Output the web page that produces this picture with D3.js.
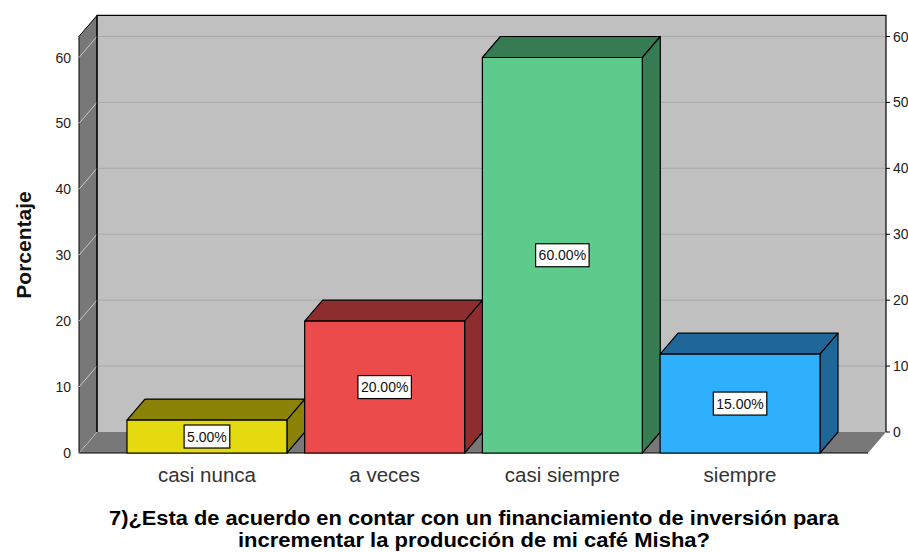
<!DOCTYPE html>
<html><head><meta charset="utf-8">
<script src="https://cdn.jsdelivr.net/npm/d3@7"></script>
<style>body{margin:0;background:#fff}svg{display:block}</style>
</head><body><svg id="c" width="908" height="552"></svg>
<script>
const categories = ["casi nunca", "a veces", "casi siempre", "siempre"];
const values = [5, 20, 60, 15];
const valueLabels = ["5.00%", "20.00%", "60.00%", "15.00%"];
const ticks = [0, 10, 20, 30, 40, 50, 60];
const frontColors = ["#e5d90f", "#ec4b4b", "#5ccb8b", "#2fb0fd"];
const sideColors = ["#8b8208", "#8e2d2d", "#367c52", "#1f6699"];
const yTitle = "Porcentaje";
const titleLines = ["7)¿Esta de acuerdo en contar con un financiamiento de inversión para", "incrementar la producción de mi café Misha?"];
const titleWidths = [730, 472];

const svg = d3.select("#c");
const dx = 18, dy = -21;
const x0 = 79, x1 = 868;
const y = d3.scaleLinear().domain([0, 60]).range([453, 57.5]);
const topVal = 63.2;
const x = d3.scaleBand().domain(categories).range([x0, x1]).paddingInner(0.1).paddingOuter(0.27);
const FONT = "Liberation Sans, Arial, sans-serif";

// back wall
svg.append("rect").attr("x", x0 + dx).attr("y", y(topVal) + dy).attr("width", x1 - x0).attr("height", y(0) - y(topVal))
  .attr("fill", "#c0c0c0");
// left wall
svg.append("polygon").attr("points", [[x0, y(0)], [x0, y(topVal)], [x0 + dx, y(topVal) + dy], [x0 + dx, y(0) + dy]].join(" "))
  .attr("fill", "#787878").attr("stroke", "#000").attr("stroke-width", 1);
// floor
svg.append("polygon").attr("points", [[x0, y(0)], [x1, y(0)], [x1 + dx, y(0) + dy], [x0 + dx, y(0) + dy]].join(" "))
  .attr("fill", "#787878");
// gridlines
ticks.filter(t => t > 0).forEach(t => {
  svg.append("line").attr("x1", x0 + dx).attr("x2", x1 + dx).attr("y1", y(t) + dy).attr("y2", y(t) + dy)
    .attr("stroke", "#a9a9a9").attr("stroke-width", 1);
  svg.append("line").attr("x1", x0).attr("x2", x0 + dx).attr("y1", y(t)).attr("y2", y(t) + dy)
    .attr("stroke", "#c8c8c8").attr("stroke-width", 1);
});
svg.append("line").attr("x1", x0).attr("x2", x0 + dx).attr("y1", y(0)).attr("y2", y(0) + dy)
  .attr("stroke", "#c8c8c8").attr("stroke-width", 1);
// back wall edges
svg.append("polyline").attr("points", [[x0 + dx, y(0) + dy], [x0 + dx, y(topVal) + dy], [x1 + dx, y(topVal) + dy], [x1 + dx, y(0) + dy]].join(" "))
  .attr("fill", "none").attr("stroke", "#000").attr("stroke-width", 1.2);
svg.append("line").attr("x1", x0).attr("x2", x1).attr("y1", y(0)).attr("y2", y(0)).attr("stroke", "#000").attr("stroke-width", 1);

// bars
const bars = svg.append("g");
categories.forEach((c, i) => {
  const bx = x(c), bw = x.bandwidth(), ty = y(values[i]), by = y(0);
  const g = bars.append("g").attr("stroke", "#000").attr("stroke-width", 1.2).attr("stroke-linejoin", "round");
  g.append("polygon").attr("points", [[bx, ty], [bx + dx, ty + dy], [bx + bw + dx, ty + dy], [bx + bw, ty]].join(" ")).attr("fill", sideColors[i]);
  g.append("polygon").attr("points", [[bx + bw, ty], [bx + bw + dx, ty + dy], [bx + bw + dx, by + dy], [bx + bw, by]].join(" ")).attr("fill", sideColors[i]);
  g.append("rect").attr("x", bx).attr("y", ty).attr("width", bw).attr("height", by - ty).attr("fill", frontColors[i]);
  // value label
  const cx = bx + bw / 2, cy = (ty + by) / 2;
  const t = svg.append("text").attr("x", cx).attr("y", cy + 5).attr("text-anchor", "middle")
    .attr("font-family", FONT).attr("font-size", 14).attr("fill", "#111").text(valueLabels[i]);
  const bb = t.node().getBBox();
  svg.insert("rect", () => t.node()).attr("x", bb.x - 3).attr("y", cy - 11.5).attr("width", bb.width + 6).attr("height", 23)
    .attr("fill", "#fff").attr("stroke", "#000").attr("stroke-width", 1.2);
});

// left axis labels
const axL = svg.append("g").attr("font-family", FONT).attr("font-size", 14).attr("fill", "#222");
ticks.forEach(t => axL.append("text").attr("x", 71).attr("y", y(t) + 5).attr("text-anchor", "end").text(t));
// right axis
ticks.forEach(t => {
  svg.append("line").attr("x1", x1 + dx).attr("x2", x1 + dx + 4).attr("y1", y(t) + dy).attr("y2", y(t) + dy).attr("stroke", "#000");
  axL.append("text").attr("x", x1 + dx + 7).attr("y", y(t) + dy + 5).attr("text-anchor", "start").text(t);
});

// category labels
categories.forEach(c => svg.append("text").attr("x", x(c) + x.bandwidth() / 2).attr("y", 482).attr("text-anchor", "middle")
  .attr("font-family", FONT).attr("font-size", 20.5).attr("fill", "#333").text(c));

// y title
svg.append("text").attr("transform", "translate(31,245) rotate(-90)").attr("text-anchor", "middle")
  .attr("font-family", FONT).attr("font-size", 21).attr("font-weight", "bold").attr("fill", "#111").text(yTitle);

// title
titleLines.forEach((l, i) => svg.append("text").attr("x", 474).attr("y", 525 + i * 22).attr("text-anchor", "middle")
  .attr("font-family", FONT).attr("font-size", 19.5).attr("font-weight", "bold").attr("fill", "#000")
  .attr("textLength", titleWidths[i]).attr("lengthAdjust", "spacingAndGlyphs").text(l));
</script></body></html>
